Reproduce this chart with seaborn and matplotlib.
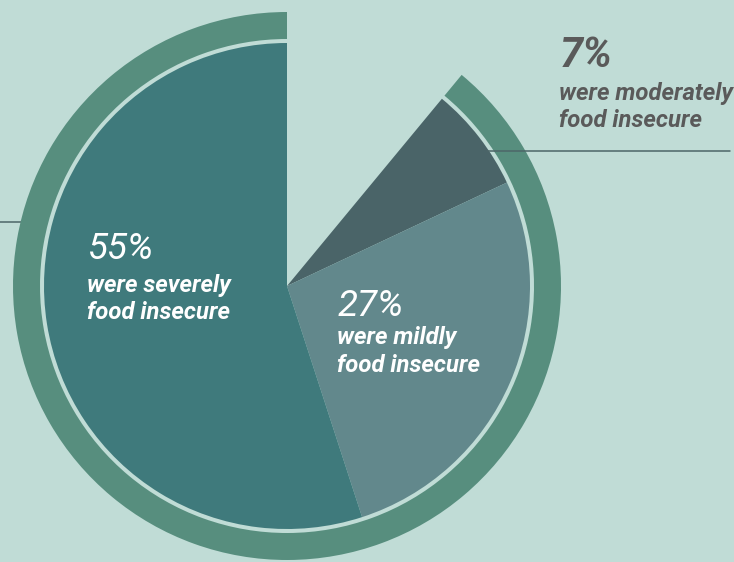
import matplotlib
matplotlib.use("Agg")
import matplotlib.pyplot as plt
import seaborn as sns

# ---- data ----
categories = ["were moderately\nfood insecure", "were mildly\nfood insecure", "were severely\nfood insecure"]
values = [7, 27, 55]
pct_labels = ["7%", "27%", "55%"]
remainder = 100 - sum(values)

# ---- style ----
BG = "#c0dcd6"
RING = "#578e7e"
SLICE_COLORS = ["#4a6468", "#62888c", "#3f7a7c"]
LINE = "#4d6668"
GRAY = "#5a5a5a"

sns.set_theme(style="white")
plt.rcParams["font.family"] = ["Roboto", "DejaVu Sans"]

W, H = 734, 562
fig = plt.figure(figsize=(W / 100, H / 100), dpi=100)
fig.patch.set_facecolor(BG)
ax = fig.add_axes([0, 0, 1, 1])
ax.set_facecolor(BG)
ax.set_xlim(0, W)
ax.set_ylim(0, H)
ax.set_aspect("equal")
ax.axis("off")

def Y(py):
    return H - py

cx, cy = 287, Y(286)

# outer ring (covers the reported share)
ax.pie([remainder, sum(values)], colors=["none", RING], startangle=90, counterclock=False,
       center=(cx, cy), radius=274, wedgeprops=dict(width=27, linewidth=0), frame=True)

# main pie
ax.pie([remainder] + values, colors=["none"] + SLICE_COLORS, startangle=90, counterclock=False,
       center=(cx, cy), radius=243, wedgeprops=dict(linewidth=0), frame=True)

ax.set_xlim(0, W)
ax.set_ylim(0, H)
ax.axis("off")

# leader lines
ax.plot([0, 22], [Y(222), Y(222)], color=LINE, lw=1.1, zorder=0)
ax.plot([487, 730], [Y(151), Y(151)], color=LINE, lw=1.1, zorder=3)

# labels
big_kw = dict(ha="left", va="baseline", style="italic")
sub_kw = dict(ha="left", va="baseline", style="italic", weight="bold", fontsize=17.2)

# 7%
ax.text(560, Y(67), pct_labels[0], color=GRAY, fontsize=30, weight="bold", **big_kw)
ax.text(559, Y(100), categories[0].split("\n")[0], color=GRAY, **sub_kw)
ax.text(559, Y(127), categories[0].split("\n")[1], color=GRAY, **sub_kw)

# 27%
ax.text(338, Y(316), pct_labels[1], color="white", fontsize=26.5, **big_kw)
ax.text(337, Y(344), categories[1].split("\n")[0], color="white", **sub_kw)
ax.text(337, Y(372), categories[1].split("\n")[1], color="white", **sub_kw)

# 55%
ax.text(88, Y(259), pct_labels[2], color="white", fontsize=26.5, **big_kw)
ax.text(87, Y(292), categories[2].split("\n")[0], color="white", **sub_kw)
ax.text(87, Y(319), categories[2].split("\n")[1], color="white", **sub_kw)

fig.savefig("out.png", dpi=100, facecolor=BG)
